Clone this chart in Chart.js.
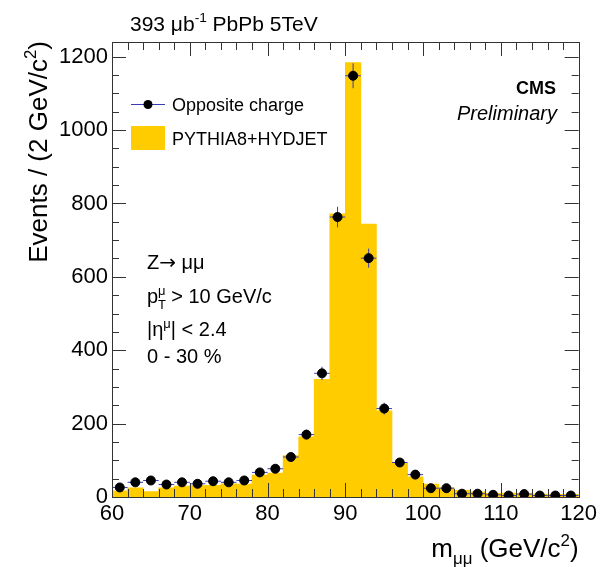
<!DOCTYPE html>
<html>
<head>
<meta charset="utf-8">
<script src="https://cdn.jsdelivr.net/npm/chart.js@4.4.0/dist/chart.umd.min.js"></script>
<style>
  html, body { margin: 0; padding: 0; background: #fff; }
  #wrap { width: 601px; height: 567px; }
</style>
</head>
<body>
<div id="wrap"><canvas id="zmass"></canvas></div>
<script>
// bin centres, 2 GeV bins from 60 to 120
const binCenters = [61, 63, 65, 67, 69, 71, 73, 75, 77, 79, 81, 83, 85, 87, 89,
                    91, 93, 95, 97, 99, 101, 103, 105, 107, 109, 111, 113, 115, 117, 119];
// PYTHIA8+HYDJET histogram
const mcCounts = [17, 25, 15, 25, 30, 31, 32, 36, 35, 60, 65, 113, 164, 321, 772,
                  1184, 744, 235, 92, 55, 35, 25, 18, 14, 10, 11, 10, 8, 7, 7];
// Opposite charge data points and their errors
const dataCounts = [26, 40, 45, 34, 40, 36, 43, 40, 45, 67, 77, 109, 170, 337, 763,
                    1148, 651, 241, 94, 61, 24, 24, 9, 9, 6, 4, 8, 4, 4, 4];
const dataErrors = [5, 6, 7, 6, 6, 6, 7, 6, 7, 8, 9, 10, 13, 18, 28,
                    34, 26, 16, 10, 8, 5, 5, 3, 3, 2.5, 2, 3, 2, 2, 2];
const xTicks = [60, 70, 80, 90, 100, 110, 120];
const yTicks = [0, 200, 400, 600, 800, 1000, 1200];

const FONT = '"Liberation Sans", Arial, Helvetica, sans-serif';
const YELLOW = '#ffcc00';
const ERRCOL = '#3b3bb5';

// draw text with sub/superscripts; parts: [text, mode, noAdvance, family]
// mode = 0 normal, 1 sup, -1 sub
function partFont(p, size, style) {
    const s = p[1] === 0 ? size : size * 0.65;
    return `${style || ''} ${s}px ${p[3] || FONT}`;
}
function richWidth(ctx, parts, size, style) {
    let w = 0;
    parts.forEach(p => {
        ctx.font = partFont(p, size, style);
        if (!p[2]) w += ctx.measureText(p[0]).width;
    });
    return w;
}
function drawRich(ctx, parts, x, y, size, style) {
    ctx.textBaseline = 'alphabetic';
    ctx.textAlign = 'left';
    let cx = x;
    parts.forEach(p => {
        ctx.font = partFont(p, size, style);
        const dy = p[1] === 1 ? -size * 0.42 : (p[1] === -1 ? size * 0.28 : 0);
        ctx.fillText(p[0], cx, y + dy);
        if (!p[2]) cx += ctx.measureText(p[0]).width;
    });
}

const rootStyle = {
    id: 'rootStyle',
    afterDatasetDraw(chart, args) {
        // error bars go under the markers, right after the histogram
        if (args.index !== 1) return;
        const { ctx, scales: { x, y } } = chart;
        ctx.save();
        ctx.strokeStyle = ERRCOL;
        ctx.lineWidth = 1;
        binCenters.forEach((c, i) => {
            const px = x.getPixelForValue(c);
            const py = y.getPixelForValue(dataCounts[i]);
            ctx.beginPath();
            ctx.moveTo(x.getPixelForValue(c - 1), py);
            ctx.lineTo(x.getPixelForValue(c + 1), py);
            ctx.moveTo(px, y.getPixelForValue(dataCounts[i] - dataErrors[i]));
            ctx.lineTo(px, y.getPixelForValue(dataCounts[i] + dataErrors[i]));
            ctx.stroke();
        });
        ctx.restore();
    },
    afterDraw(chart) {
        const { ctx, chartArea: a, scales: { x, y } } = chart;
        ctx.save();
        ctx.strokeStyle = '#333';
        ctx.lineWidth = 1;
        ctx.strokeRect(Math.round(a.left) + 0.5, Math.round(a.top) + 0.5,
                       Math.round(a.width), Math.round(a.height));

        // inward ticks on all four sides
        ctx.beginPath();
        for (let v = 60; v <= 120; v += 2) {
            const px = Math.round(x.getPixelForValue(v)) + 0.5;
            const len = v % 10 === 0 ? 14 : 8;
            ctx.moveTo(px, a.bottom); ctx.lineTo(px, a.bottom - len);
            ctx.moveTo(px, a.top); ctx.lineTo(px, a.top + len);
        }
        for (let v = 0; v <= 1200; v += 50) {
            const py = Math.round(y.getPixelForValue(v)) + 0.5;
            const len = v % 200 === 0 ? 14 : 7;
            ctx.moveTo(a.left, py); ctx.lineTo(a.left + len, py);
            ctx.moveTo(a.right, py); ctx.lineTo(a.right - len, py);
        }
        ctx.stroke();

        ctx.fillStyle = '#000';
        // header
        drawRich(ctx, [['393 \u03bcb', 0], ['-1', 1], [' PbPb 5TeV', 0]], 130, 31, 21);

        // y axis title
        const yt = [['Events / (2 GeV/c', 0], ['2', 1], [')', 0]];
        const ytw = richWidth(ctx, yt, 26);
        ctx.save();
        ctx.translate(47, a.top - 1 + ytw);
        ctx.rotate(-Math.PI / 2);
        drawRich(ctx, yt, 0, 0, 26);
        ctx.restore();

        // x axis title
        const xt = [['m', 0], ['\u03bc\u03bc', -1], [' (GeV/c', 0], ['2', 1], [')', 0]];
        const xtw = richWidth(ctx, xt, 26);
        drawRich(ctx, xt, a.right - xtw, 557, 26);

        // legend
        ctx.strokeStyle = ERRCOL;
        ctx.beginPath();
        ctx.moveTo(131, 104.5); ctx.lineTo(165, 104.5);
        ctx.stroke();
        ctx.fillStyle = '#000';
        ctx.beginPath();
        ctx.arc(148, 104.5, 4.5, 0, Math.PI * 2);
        ctx.fill();
        drawRich(ctx, [['Opposite charge', 0]], 172, 111, 18);
        ctx.fillStyle = YELLOW;
        ctx.fillRect(131, 126, 34, 24);
        ctx.fillStyle = '#000';
        drawRich(ctx, [['PYTHIA8+HYDJET', 0]], 172, 145, 18);

        // CMS label
        ctx.textAlign = 'right';
        ctx.font = `bold 18px ${FONT}`;
        ctx.fillText('CMS', 556, 94);
        ctx.font = `italic 20px ${FONT}`;
        ctx.fillText('Preliminary', 557, 120);

        // selection text
        drawRich(ctx, [['Z', 0], ['\u2192', 0, false, '"DejaVu Sans", sans-serif'], [' \u03bc\u03bc', 0]], 147, 269, 20);
        drawRich(ctx, [['p', 0], ['T', -1, true], ['\u03bc', 1], [' > 10 GeV/c', 0]], 147, 303, 20);
        drawRich(ctx, [['|\u03b7', 0], ['\u03bc', 1], ['| < 2.4', 0]], 147, 336, 20);
        drawRich(ctx, [['0 - 30 %', 0]], 147, 363, 20);
        ctx.restore();
    }
};

new Chart(document.getElementById('zmass').getContext('2d'), {
    type: 'bar',
    data: {
        datasets: [{
            type: 'scatter',
            label: 'Opposite charge',
            data: binCenters.map((c, i) => ({ x: c, y: dataCounts[i] })),
            backgroundColor: '#000',
            borderColor: '#000',
            pointRadius: 4.5,
            pointHoverRadius: 4.5,
            order: 0
        }, {
            type: 'bar',
            label: 'PYTHIA8+HYDJET',
            data: binCenters.map((c, i) => ({ x: c, y: mcCounts[i] })),
            backgroundColor: YELLOW,
            borderWidth: 0,
            barPercentage: 1,
            categoryPercentage: 1,
            grouped: false,
            order: 1
        }]
    },
    options: {
        responsive: true,
        maintainAspectRatio: false,
        animation: false,
        events: [],
        layout: { padding: { left: 0, top: 42, right: 21, bottom: 0 } },
        plugins: { legend: { display: false }, tooltip: { enabled: false } },
        scales: {
            x: {
                type: 'linear',
                min: 60,
                max: 120,
                offset: false,
                grid: { display: false, drawTicks: false },
                border: { display: false },
                afterBuildTicks: s => { s.ticks = xTicks.map(v => ({ value: v })); },
                afterFit: s => { s.height = 70; },
                ticks: {
                    color: '#000',
                    font: { family: FONT, size: 22 },
                    padding: 4,
                    maxRotation: 0,
                    autoSkip: false,
                    callback: v => String(v)
                }
            },
            y: {
                min: 0,
                max: 1240,
                grid: { display: false, drawTicks: false },
                border: { display: false },
                afterBuildTicks: s => { s.ticks = yTicks.map(v => ({ value: v })); },
                afterFit: s => { s.width = 112; },
                ticks: {
                    color: '#000',
                    font: { family: FONT, size: 22 },
                    padding: 4,
                    callback: v => String(v)
                }
            }
        }
    },
    plugins: [rootStyle]
});
</script>
</body>
</html>
